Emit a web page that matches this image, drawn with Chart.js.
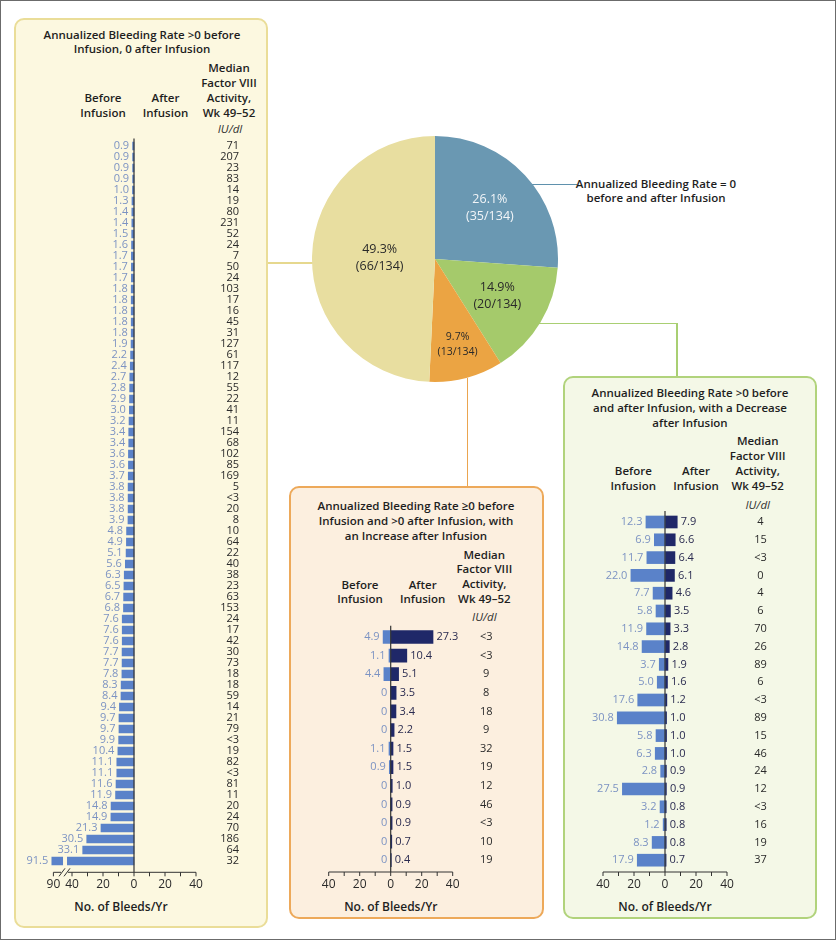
<!DOCTYPE html>
<html>
<head>
<meta charset="utf-8">
<script src="https://cdn.jsdelivr.net/npm/chart.js@4.4.1/dist/chart.umd.min.js"></script>
<style>
  body { margin: 0; background: #fff; }
  #page { position: relative; width: 836px; height: 940px; overflow: hidden; font-family: "Open Sans", sans-serif; color: #1e1e1e; }
  .frame { position: absolute; left: 0; top: 0; width: 834px; height: 938px; border: 1px solid #6b6b6b; }
  .box { position: absolute; box-sizing: border-box; border: 2px solid; border-radius: 10px; }
  .t { position: absolute; transform: translateX(-50%); text-align: center; white-space: nowrap; font-weight: 600; font-size: 11.5px; line-height: 14.8px; }
  .u { position: absolute; transform: translateX(-50%); white-space: nowrap; font-style: italic; font-size: 11.5px; line-height: 14px; color: #333; }
  .ax { position: absolute; transform: translateX(-50%); white-space: nowrap; font-weight: 600; font-size: 12px; line-height: 15px; }
  .ln { position: absolute; }
  canvas { position: absolute; }
</style>
</head>
<body>
<div id="page">
  <div class="frame"></div>

  <!-- connectors -->
  <div class="ln" style="left:268px; top:262px; width:48px; height:1.5px; background:#e6d88e;"></div>
  <div class="ln" style="left:530px; top:183.5px; width:47px; height:1.5px; background:#5f91ad;"></div>
  <div class="ln" style="left:535px; top:322.5px; width:142px; height:1.5px; background:#a9cf73;"></div>
  <div class="ln" style="left:676px; top:322.5px; width:1.5px; height:54px; background:#a9cf73;"></div>
  <div class="ln" style="left:466.5px; top:378px; width:1.5px; height:108px; background:#eba54f;"></div>

  <!-- panels -->
  <div class="box" style="left:14px; top:18px; width:254px; height:910px; border-color:#eadd98; background:#fcf8e0;"></div>
  <div class="box" style="left:289px; top:486px; width:255px; height:433px; border-color:#eda95a; background:#fcefdf;"></div>
  <div class="box" style="left:563px; top:376px; width:254px; height:543px; border-color:#b1d37c; background:#f4f8e7;"></div>

  <!-- left panel text -->
  <div class="t" style="left:142px; top:27.6px; line-height:14px;">Annualized Bleeding Rate &gt;0 before<br>Infusion, 0 after Infusion</div>
  <div class="t" style="left:103px; top:91.1px;">Before<br>Infusion</div>
  <div class="t" style="left:165.5px; top:91.1px;">After<br>Infusion</div>
  <div class="t" style="left:229px; top:61.4px;">Median<br>Factor VIII<br>Activity,<br>Wk 49–52</div>
  <div class="u" style="left:230px; top:122px;">IU/dl</div>
  <div class="ax" style="left:121px; top:898.5px;">No. of Bleeds/Yr</div>

  <!-- middle panel text -->
  <div class="t" style="left:416px; top:497.5px; line-height:15px;">Annualized Bleeding Rate ≥0 before<br>Infusion and &gt;0 after Infusion, with<br>an Increase after Infusion</div>
  <div class="t" style="left:360px; top:577.6px;">Before<br>Infusion</div>
  <div class="t" style="left:422.7px; top:577.6px;">After<br>Infusion</div>
  <div class="t" style="left:484.3px; top:547.6px;">Median<br>Factor VIII<br>Activity,<br>Wk 49–52</div>
  <div class="u" style="left:484.3px; top:610.3px;">IU/dl</div>
  <div class="ax" style="left:390.8px; top:899.2px;">No. of Bleeds/Yr</div>

  <!-- right panel text -->
  <div class="t" style="left:690px; top:386px;">Annualized Bleeding Rate &gt;0 before<br>and after Infusion, with a Decrease<br>after Infusion</div>
  <div class="t" style="left:633.3px; top:464.2px;">Before<br>Infusion</div>
  <div class="t" style="left:696px; top:464.2px;">After<br>Infusion</div>
  <div class="t" style="left:757.7px; top:433.2px; line-height:15.1px;">Median<br>Factor VIII<br>Activity,<br>Wk 49–52</div>
  <div class="u" style="left:757.7px; top:498px;">IU/dl</div>
  <div class="ax" style="left:665px; top:898.5px;">No. of Bleeds/Yr</div>

  <!-- pie callout -->
  <div class="t" style="left:656px; top:176.6px;">Annualized Bleeding Rate = 0<br>before and after Infusion</div>

  <canvas id="pie"></canvas>
  <canvas id="leftChart"></canvas>
  <canvas id="midChart"></canvas>
  <canvas id="rightChart"></canvas>
</div>

<script>
// ---- data ----
const leftBefore = [0.9, 0.9, 0.9, 0.9, 1.0, 1.3, 1.4, 1.4, 1.5, 1.6, 1.7, 1.7, 1.7, 1.8, 1.8, 1.8, 1.8, 1.8,
  1.9, 2.2, 2.4, 2.7, 2.8, 2.9, 3.0, 3.2, 3.4, 3.4, 3.6, 3.6, 3.7, 3.8, 3.8, 3.8, 3.9, 4.8, 4.9, 5.1, 5.6,
  6.3, 6.5, 6.7, 6.8, 7.6, 7.6, 7.6, 7.7, 7.7, 7.8, 8.3, 8.4, 9.4, 9.7, 9.7, 9.9, 10.4, 11.1, 11.1, 11.6,
  11.9, 14.8, 14.9, 21.3, 30.5, 33.1, 91.5];
const leftMedian = ["71", "207", "23", "83", "14", "19", "80", "231", "52", "24", "7", "50", "24", "103", "17",
  "16", "45", "31", "127", "61", "117", "12", "55", "22", "41", "11", "154", "68", "102", "85", "169", "5",
  "<3", "20", "8", "10", "64", "22", "40", "38", "23", "63", "153", "24", "17", "42", "30", "73", "18", "18",
  "59", "14", "21", "79", "<3", "19", "82", "<3", "81", "11", "20", "24", "70", "186", "64", "32"];

const midBefore = [4.9, 1.1, 4.4, 0, 0, 0, 1.1, 0.9, 0, 0, 0, 0, 0];
const midAfter = [27.3, 10.4, 5.1, 3.5, 3.4, 2.2, 1.5, 1.5, 1.0, 0.9, 0.9, 0.7, 0.4];
const midMedian = ["<3", "<3", "9", "8", "18", "9", "32", "19", "12", "46", "<3", "10", "19"];

const rightBefore = [12.3, 6.9, 11.7, 22.0, 7.7, 5.8, 11.9, 14.8, 3.7, 5.0, 17.6, 30.8, 5.8, 6.3, 2.8, 27.5, 3.2, 1.2, 8.3, 17.9];
const rightAfter = [7.9, 6.6, 6.4, 6.1, 4.6, 3.5, 3.3, 2.8, 1.9, 1.6, 1.2, 1.0, 1.0, 1.0, 0.9, 0.9, 0.8, 0.8, 0.8, 0.7];
const rightMedian = ["4", "15", "<3", "0", "4", "6", "70", "26", "89", "6", "<3", "89", "15", "46", "24", "12", "<3", "16", "19", "37"];

const pieGroups = ["ABR = 0 before and after", "Decrease after", "Increase after", "0 after"];
const pieCounts = [35, 20, 13, 66];

const leftTicks = [-90, -40, -20, 0, 20, 40];
const sideTicks = [-40, -20, 0, 20, 40];

// ---- helpers ----
Chart.defaults.font.family = "Open Sans";
const BEFORE = "#5a82c9";
const AFTER = "#1f2868";
const PX = 1.55; // px per bleed/yr

const fmt = v => (v === 0 ? "0" : v.toFixed(1));
// axis break for the 91.5 bar
const brk = v => (v > 45 ? 52 + (v - 90) * 0.7 : v);
const unbrk = d => (d > 45 ? 90 + (d - 52) / 0.7 : d);

const rowsPlugin = {
  id: "rows",
  afterDatasetsDraw(chart, args, o) {
    const ctx = chart.ctx, xs = chart.scales.x, ys = chart.scales.y, area = chart.chartArea;
    const x0 = xs.getPixelForValue(0);
    const axisY = area.bottom + o.axisGap;
    ctx.save();

    if (o.breakAt) {
      const bx = xs.getPixelForValue(-o.breakAt);
      ctx.fillStyle = o.bg;
      o.before.forEach((v, i) => {
        if (v > o.breakAt) {
          const y = ys.getPixelForValue(i);
          ctx.fillRect(bx - 2, y - o.bar / 2 - 1, 4, o.bar + 2);
        }
      });
    }

    // zero line
    ctx.strokeStyle = "#333";
    ctx.lineWidth = 1.2;
    ctx.beginPath();
    ctx.moveTo(x0, area.top - 2);
    ctx.lineTo(x0, axisY);
    ctx.stroke();

    // axis line + tick marks
    const tv = xs.ticks.map(t => t.value);
    ctx.lineWidth = 1;
    ctx.beginPath();
    ctx.moveTo(xs.getPixelForValue(tv[0]), axisY);
    ctx.lineTo(xs.getPixelForValue(tv[tv.length - 1]), axisY);
    const marks = [];
    tv.forEach((v, i) => {
      marks.push(v);
      if (i && v - tv[i - 1] === 20) marks.push(v - 10);
    });
    marks.forEach(v => {
      const x = xs.getPixelForValue(v);
      ctx.moveTo(x, axisY);
      ctx.lineTo(x, axisY + 4);
    });
    ctx.stroke();

    if (o.breakAt) {
      const bx = xs.getPixelForValue(-o.breakAt);
      ctx.fillStyle = o.bg;
      ctx.fillRect(bx - 4, axisY - 2, 7, 4);
      ctx.beginPath();
      [-3, 2].forEach(d => {
        ctx.moveTo(bx + d - 3, axisY + 4);
        ctx.lineTo(bx + d + 3, axisY - 4);
      });
      ctx.stroke();
    }

    // value labels
    ctx.font = '11px "Open Sans"';
    ctx.textBaseline = "middle";
    o.before.forEach((v, i) => {
      const y = ys.getPixelForValue(i);
      ctx.textAlign = "right";
      ctx.fillStyle = "#7c93c3";
      ctx.fillText(fmt(v), xs.getPixelForValue(-brk(v)) - 3.5, y);
      if (o.after) {
        ctx.textAlign = "left";
        ctx.fillStyle = "#2a2b50";
        ctx.fillText(fmt(o.after[i]), xs.getPixelForValue(o.after[i]) + 3.5, y);
      }
      ctx.textAlign = o.medianAlign;
      ctx.fillStyle = "#2a2a2a";
      ctx.fillText(o.median[i], area.right + o.medianDx, y);
    });
    ctx.restore();
  }
};

function makeBars(id, g, before, after, median, ticks) {
  const cv = document.getElementById(id);
  cv.width = g.w;
  cv.height = g.h;
  cv.style.left = g.x + "px";
  cv.style.top = g.y + "px";

  const padL = g.zero + g.min * PX - g.x;
  const padR = g.x + g.w - (g.zero + g.max * PX);
  const padT = g.first - g.step / 2 - g.y;
  const areaBottom = padT + before.length * g.step;
  const scaleH = g.h - areaBottom;
  const tickPad = g.labelY - 7.2 - (g.y + areaBottom);

  const datasets = [{
    label: "Before Infusion",
    data: before.map(v => -brk(v)),
    backgroundColor: BEFORE,
    barThickness: g.bar,
    borderWidth: 0
  }];
  if (after) {
    datasets.push({
      label: "After Infusion",
      data: after,
      backgroundColor: AFTER,
      barThickness: g.bar,
      borderWidth: 0
    });
  }

  return new Chart(cv, {
    type: "bar",
    data: { labels: before.map((_, i) => "Patient " + (i + 1)), datasets },
    options: {
      indexAxis: "y",
      responsive: false,
      animation: false,
      devicePixelRatio: 1,
      layout: { padding: { left: padL, right: padR, top: padT, bottom: 0 } },
      plugins: {
        legend: { display: false },
        tooltip: { enabled: false },
        rows: {
          before, after, median,
          axisGap: g.gap,
          medianDx: g.medDx,
          medianAlign: g.medAlign,
          breakAt: g.breakAt,
          bg: g.bg,
          bar: g.bar
        }
      },
      scales: {
        x: {
          type: "linear",
          min: g.min,
          max: g.max,
          stacked: true,
          grid: { display: false, drawTicks: false },
          border: { display: false },
          afterBuildTicks: s => { s.ticks = ticks.map(v => ({ value: Math.sign(v) * brk(Math.abs(v)) })); },
          afterFit: s => { s.height = scaleH; },
          ticks: {
            padding: tickPad,
            autoSkip: false,
            maxRotation: 0,
            color: "#2a2a2a",
            font: { size: 12 },
            callback: v => String(Math.round(unbrk(Math.abs(v))))
          }
        },
        y: { display: false, stacked: true }
      }
    },
    plugins: [rowsPlugin]
  });
}

// ---- bar panels ----
makeBars("leftChart",
  { x: 16, y: 132, w: 250, h: 778, zero: 134, min: -53.5, max: 40, first: 146, step: 11, bar: 8,
    gap: 5.8, labelY: 885, medDx: 43, medAlign: "right", breakAt: 44.5, bg: "#fcf8e0" },
  leftBefore, null, leftMedian, leftTicks);

makeBars("midChart",
  { x: 292, y: 620, w: 252, h: 285, zero: 390.7, min: -40, max: 40, first: 637, step: 18.6, bar: 13,
    gap: 2.5, labelY: 885, medDx: 33.5, medAlign: "center", bg: "#fcefdf" },
  midBefore, midAfter, midMedian, sideTicks);

makeBars("rightChart",
  { x: 566, y: 505, w: 249, h: 400, zero: 665, min: -40, max: 40, first: 522, step: 17.8, bar: 12,
    gap: 2.9, labelY: 885, medDx: 33.5, medAlign: "center", bg: "#f4f8e7" },
  rightBefore, rightAfter, rightMedian, sideTicks);

// ---- pie ----
const pieLabels = {
  id: "pieLabels",
  afterDatasetsDraw(chart, args, o) {
    const ctx = chart.ctx;
    const total = pieCounts.reduce((a, b) => a + b, 0);
    ctx.save();
    ctx.textAlign = "center";
    ctx.textBaseline = "middle";
    chart.getDatasetMeta(0).data.forEach((arc, i) => {
      const p = arc.getProps(["x", "y", "startAngle", "endAngle", "outerRadius"]);
      const mid = (p.startAngle + p.endAngle) / 2;
      const r = p.outerRadius * o.radial[i];
      const cx = p.x + Math.cos(mid) * r, cy = p.y + Math.sin(mid) * r;
      const fs = o.sizes[i];
      ctx.font = fs + 'px "Open Sans"';
      ctx.fillStyle = o.colors[i];
      ctx.fillText((pieCounts[i] / total * 100).toFixed(1) + "%", cx, cy - fs * 0.68);
      ctx.fillText("(" + pieCounts[i] + "/" + total + ")", cx, cy + fs * 0.68);
    });
    ctx.restore();
  }
};

const pieCv = document.getElementById("pie");
pieCv.width = 250;
pieCv.height = 250;
pieCv.style.left = "310px";
pieCv.style.top = "134px";
new Chart(pieCv, {
  type: "pie",
  data: {
    labels: pieGroups,
    datasets: [{
      data: pieCounts,
      backgroundColor: ["#6a98b2", "#a5ca6b", "#eba443", "#e8dea0"],
      borderWidth: 0
    }]
  },
  options: {
    responsive: false,
    animation: false,
    devicePixelRatio: 1,
    layout: { padding: 2 },
    plugins: {
      legend: { display: false },
      tooltip: { enabled: false },
      pieLabels: {
        radial: [0.61, 0.59, 0.72, 0.45],
        sizes: [12.5, 12.5, 10.5, 12.5],
        colors: ["#f2f5f8", "#2a2a2a", "#2a2a2a", "#2a2a2a"]
      }
    }
  },
  plugins: [pieLabels]
});
</script>
</body>
</html>
